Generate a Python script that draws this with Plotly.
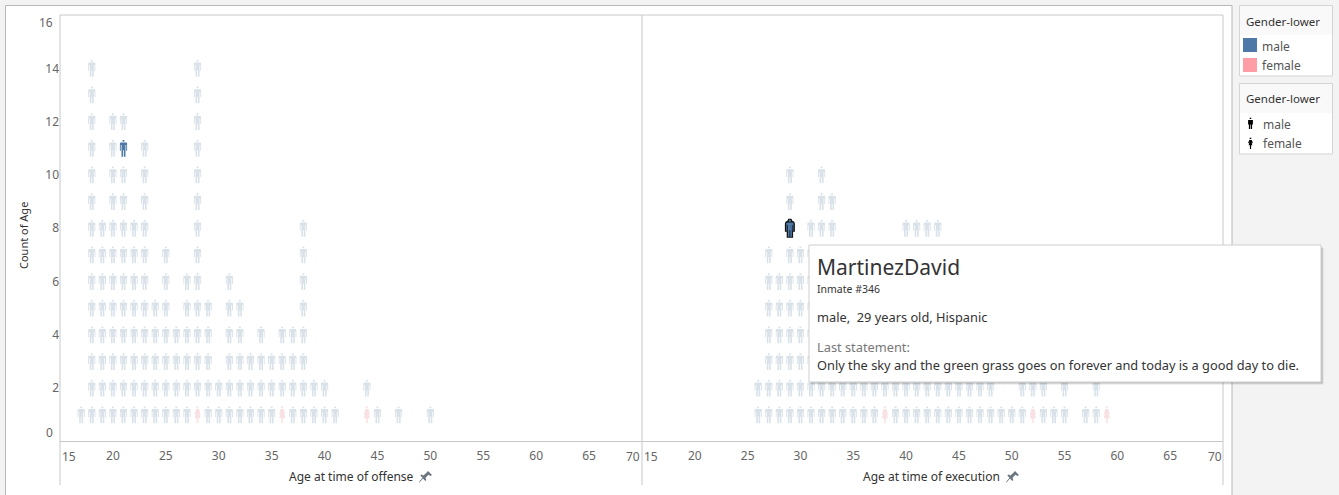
import plotly.graph_objects as go

W, H = 1339, 495

# ages and how many inmates stacked at each age
offense_ages = [17, 18, 19, 20, 21, 22, 23, 24, 25, 26, 27, 28, 29, 30, 31, 32, 33, 34, 35, 36, 37, 38, 39, 40, 41, 44, 45, 47, 50]
offense_counts = [1, 14, 8, 12, 12, 8, 11, 5, 7, 4, 6, 14, 5, 2, 6, 5, 3, 4, 3, 4, 4, 8, 2, 2, 1, 2, 1, 1, 1]
offense_female_ages = [28, 36, 44]
offense_selected = (21, 11)

# the counts for 34-39 and 44-48 sit behind the tooltip, so they are estimates
execution_ages = [26, 27, 28, 29, 30, 31, 32, 33, 34, 35, 36, 37, 38, 39, 40, 41, 42, 43, 44, 45, 46, 47, 48, 49, 50, 51, 52, 53, 54, 55, 57, 58, 59]
execution_counts = [2, 7, 6, 10, 7, 8, 10, 9, 6, 6, 5, 6, 6, 7, 8, 8, 8, 8, 6, 5, 4, 3, 2, 1, 1, 2, 2, 2, 1, 2, 1, 2, 1]
execution_female_ages = [38, 52, 59]
execution_selected = (29, 8)

x_ticks = [20, 25, 30, 35, 40, 45, 50, 55, 60, 65]
y_ticks = [2, 4, 6, 8, 10, 12, 14]

FONT = "Noto Sans"
MALE_FADED = "#d9e2e9"
FEMALE_FADED = "#f9e0e3"
MALE = "#4e79a7"
FEMALE = "#ff9da7"
RULE = "#c8c8c8"

MALE_PATH = ("M-0.6,8.4 L0.6,8.4 L1.2,7.6 L0.6,6.6 L-0.6,6.6 L-1.2,7.6 Z "
             "M-3,5.8 L3,5.8 L3.6,5 L3.6,-2.4 L2.7,-2.4 L2.7,3.2 L2,3.2 L2,-8.4 L0.4,-8.4 "
             "L0.4,-2 L-0.4,-2 L-0.4,-8.4 L-2,-8.4 L-2,3.2 L-2.7,3.2 L-2.7,-2.4 L-3.6,-2.4 L-3.6,5 Z")
FEMALE_PATH = ("M-0.6,8.4 L0.6,8.4 L1.2,7.6 L0.6,6.6 L-0.6,6.6 L-1.2,7.6 Z "
               "M-1.5,5.8 L1.5,5.8 L3,0.5 L2.4,0.2 L1.4,3 L3,-3.4 L1,-3.4 L1,-8.4 L0.2,-8.4 L0.2,-3.4 "
               "L-0.2,-3.4 L-0.2,-8.4 L-1,-8.4 L-1,-3.4 L-3,-3.4 L-1.4,3 L-2.4,0.2 L-3,0.5 Z")
# selected mark: solid dark outline behind, blue figure on top
SELECTED_BACK_PATH = ("M-1.6,9.4 L1.6,9.4 L2.4,7.4 L4.4,6.4 L5,4.6 L5,-3.6 L3.2,-3.6 L3.2,-9.4 L-3.2,-9.4 "
                      "L-3.2,-3.6 L-5,-3.6 L-5,4.6 L-4.4,6.4 L-2.4,7.4 Z")
# smaller glyphs for the shape legend
LEGEND_MALE_PATH = ("M-0.8,5.8 L0.8,5.8 L0.8,4.4 L-0.8,4.4 Z "
                    "M-2.4,3.6 L2.4,3.6 L2.4,-1 L1.6,-1 L1.6,-5.6 L0.3,-5.6 L0.3,-1 L-0.3,-1 L-0.3,-5.6 "
                    "L-1.6,-5.6 L-1.6,-1 L-2.4,-1 Z")
LEGEND_FEMALE_PATH = ("M-0.8,5.8 L0.8,5.8 L0.8,4.4 L-0.8,4.4 Z "
                      "M-1.2,3.6 L1.2,3.6 L2.4,0.6 L1.6,0.2 L1,1.8 L1.8,-1.8 L0.6,-1.8 L0.6,-5.6 L0,-5.6 "
                      "L-0.6,-5.6 L-0.6,-1.8 L-1.8,-1.8 L-1,1.8 L-1.6,0.2 L-2.4,0.6 Z")
PIN_PATH = ("M2.5,6 L6.5,2 L5,1 L3,2.3 L0,-0.8 L0.8,-3 L-0.2,-4 L-2.5,-1.5 L-6,-5.5 L-6.5,-5 "
            "L-3,-0.8 L-5.2,1.5 L-4,2.5 L-2,1.6 L1.2,4.5 Z")


def px(x):
    return x / W


def py(y):
    return 1 - y / H


def rect(x0, y0, x1, y1, fill=None, line=None, width=1, opacity=1, layer="above"):
    return dict(type="rect", xref="paper", yref="paper", x0=px(x0), x1=px(x1), y0=py(y0), y1=py(y1),
                fillcolor=fill, line=dict(color=line, width=width if line else 0), opacity=opacity, layer=layer)


def label(x, y, text, size=12, color="#555555", anchor="left", angle=0):
    return dict(xref="paper", yref="paper", x=px(x), y=py(y), text=text, showarrow=False, borderpad=0, borderwidth=0,
                xanchor=anchor, yanchor="middle", textangle=angle, font=dict(family=FONT, size=size, color=color))


def icon(path, xref, yref, x, y, fill, line=None, width=0):
    return dict(type="path", path=path, xref=xref, yref=yref, xsizemode="pixel", ysizemode="pixel",
                xanchor=x, yanchor=y, fillcolor=fill, line=dict(color=line or fill, width=width), layer="above")


def paper_icon(path, x, y, fill):
    # legend and pin glyphs stay at a fixed spot on the page
    return dict(type="path", path=path, xref="paper", yref="paper", xsizemode="pixel", ysizemode="pixel",
                xanchor=px(x), yanchor=py(y), fillcolor=fill, line=dict(width=0), layer="above")


def panel_icons(ages, counts, female_ages, selected, xref, yref):
    out = []
    for age, count in zip(ages, counts):
        for row in range(1, count + 1):
            if row == 1 and age in female_ages:
                out.append(icon(FEMALE_PATH, xref, yref, age, row, FEMALE_FADED))
            elif (age, row) == selected:
                continue
            else:
                out.append(icon(MALE_PATH, xref, yref, age, row, MALE_FADED))
    return out


def hover_points(ages, counts):
    xs, ys = [], []
    for age, count in zip(ages, counts):
        for row in range(1, count + 1):
            xs.append(age)
            ys.append(row)
    return xs, ys


fig = go.Figure()
for ages, counts, xa, ya in [(offense_ages, offense_counts, "x", "y"), (execution_ages, execution_counts, "x2", "y2")]:
    xs, ys = hover_points(ages, counts)
    fig.add_trace(go.Scatter(x=xs, y=ys, xaxis=xa, yaxis=ya, mode="markers", showlegend=False,
                             marker=dict(size=12, opacity=0), hovertemplate="Age %{x}<br>Count %{y}<extra></extra>"))

shapes = [
    rect(5.5, 5.5, 1232, 500, fill="white", line="#b8b8b8", layer="below"),
]
# panel rules
for x in [60, 642, 1223]:
    shapes.append(dict(type="line", xref="paper", yref="paper", x0=px(x), x1=px(x), y0=py(15), y1=py(485),
                       line=dict(color=RULE, width=1), layer="above"))
for y in [15, 441.5]:
    shapes.append(dict(type="line", xref="paper", yref="paper", x0=px(60), x1=px(1223), y0=py(y), y1=py(y),
                       line=dict(color=RULE, width=1), layer="above"))

shapes += panel_icons(offense_ages, offense_counts, offense_female_ages, offense_selected, "x", "y")
shapes += panel_icons(execution_ages, execution_counts, execution_female_ages, execution_selected, "x2", "y2")
shapes.append(icon(MALE_PATH, "x", "y", offense_selected[0], offense_selected[1], MALE))
shapes.append(icon(SELECTED_BACK_PATH, "x2", "y2", execution_selected[0], execution_selected[1], "#111111"))
shapes.append(icon(MALE_PATH, "x2", "y2", execution_selected[0], execution_selected[1], MALE))

# pins next to the axis titles
shapes.append(paper_icon(PIN_PATH, 425.5, 477, "#6b7580"))
shapes.append(paper_icon(PIN_PATH, 1012.5, 477, "#6b7580"))

# tooltip with its shadow
shapes += [
    rect(811, 248, 1323.5, 384.5, fill="#000000", opacity=0.10),
    rect(810, 247, 1322.5, 383.5, fill="#000000", opacity=0.14),
    rect(809, 245, 1321, 382, fill="white", line="#cfcfcf"),
]

# legends
shapes += [
    rect(1239.5, 5.5, 1332.5, 76, fill="white", line="#d4d4d4"),
    rect(1240, 6, 1332, 35, fill="#f9f9f9"),
    rect(1243, 38, 1257, 52, fill=MALE),
    rect(1243, 58, 1257, 72, fill=FEMALE),
    rect(1239.5, 83.5, 1332.5, 154, fill="white", line="#d4d4d4"),
    rect(1240, 84, 1332, 113, fill="#f9f9f9"),
    paper_icon(LEGEND_MALE_PATH, 1250.5, 123.5, "#000000"),
    paper_icon(LEGEND_FEMALE_PATH, 1250.5, 143.5, "#000000"),
]

annotations = [
    label(24, 236, "Count of Age", size=11, color="#333333", anchor="center", angle=-90),
    label(351, 476.5, "Age at time of offense", size=12, color="#333333", anchor="center"),
    label(932, 476.5, "Age at time of execution", size=12, color="#333333", anchor="center"),
    label(53, 23, "16", anchor="right", color="#666666"),
    label(53, 432, "0", anchor="right", color="#666666"),
    label(62, 456, "15", anchor="left", color="#666666"),
    label(640, 456, "70", anchor="right", color="#666666"),
    label(644, 456, "15", anchor="left", color="#666666"),
    label(1221.5, 456, "70", anchor="right", color="#666666"),
    label(817, 267, "MartinezDavid", size=21, color="#333333"),
    label(817, 289, "Inmate #346", size=10.5, color="#333333"),
    label(817, 317, "male,&nbsp; 29 years old, Hispanic", size=12.8, color="#333333"),
    label(817, 347, "Last statement:", size=12.8, color="#777777"),
    label(817, 365, "Only the sky and the green grass goes on forever and today is a good day to die.", size=12.8, color="#333333"),
    label(1246, 21, "Gender-lower", size=11.5, color="#333333"),
    label(1262, 46, "male", size=12, color="#555555"),
    label(1262, 65.5, "female", size=12, color="#555555"),
    label(1246, 98.5, "Gender-lower", size=11.5, color="#333333"),
    label(1263, 124, "male", size=12, color="#555555"),
    label(1263, 143.5, "female", size=12, color="#555555"),
]

axis_font = dict(family=FONT, size=12, color="#666666")
x_common = dict(range=[15, 70], tickmode="array", tickvals=x_ticks, showgrid=False, zeroline=False,
                showline=False, ticks="", tickfont=axis_font, ticklabelstandoff=5)
y_common = dict(range=[0, 16], showgrid=False, zeroline=False, showline=False, ticks="", tickfont=axis_font,
                domain=[py(441.5), py(15)])

fig.update_layout(
    width=W, height=H, autosize=False,
    margin=dict(l=0, r=0, t=0, b=0),
    paper_bgcolor="#f3f3f3",
    plot_bgcolor="rgba(0,0,0,0)",
    hovermode="closest",
    xaxis=dict(x_common, domain=[px(60), px(642)], anchor="y"),
    xaxis2=dict(x_common, domain=[px(642), px(1223)], anchor="y2"),
    yaxis=dict(y_common, tickmode="array", tickvals=y_ticks, anchor="x"),
    yaxis2=dict(y_common, showticklabels=False, anchor="x2"),
    shapes=shapes,
    annotations=annotations,
)

fig.write_html("out.html", config=dict(displayModeBar=False),
               post_script="document.body.style.margin='0';document.body.style.overflow='hidden';")
